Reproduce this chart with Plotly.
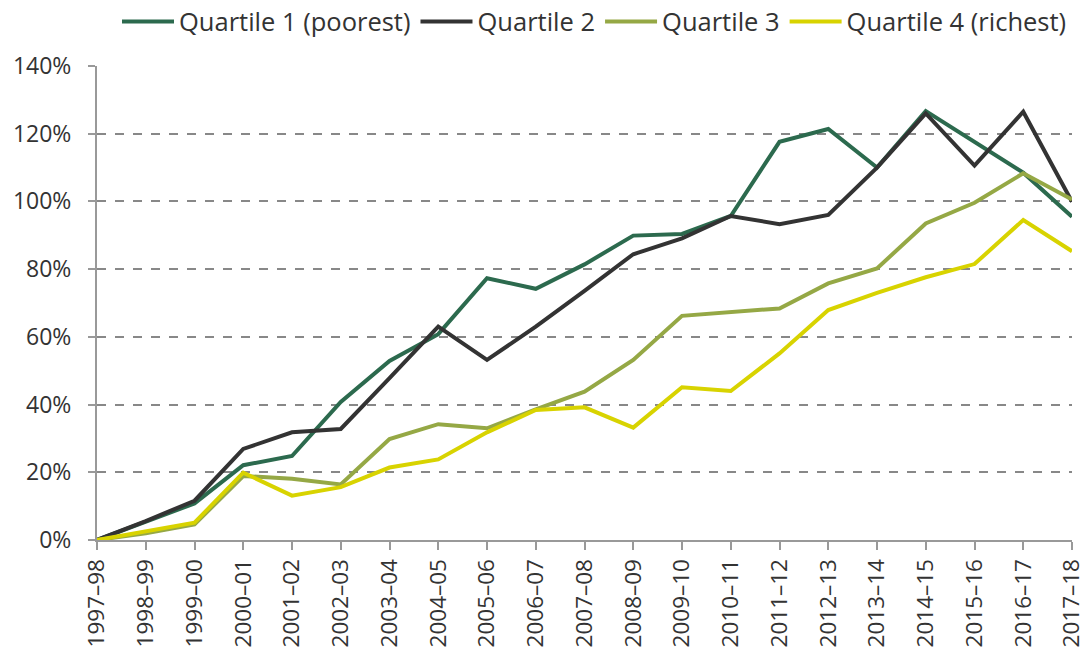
import plotly.graph_objects as go

years = ["1997–98", "1998–99", "1999–00", "2000–01", "2001–02", "2002–03", "2003–04",
         "2004–05", "2005–06", "2006–07", "2007–08", "2008–09", "2009–10", "2010–11",
         "2011–12", "2012–13", "2013–14", "2014–15", "2015–16", "2016–17", "2017–18"]

q1 = [0.0, 5.3, 10.8, 22.1, 24.8, 40.8, 52.9, 60.8, 77.3, 74.2, 81.4, 89.9, 90.4,
      95.7, 117.6, 121.4, 110.0, 126.7, 117.6, 108.5, 95.5]
q2 = [0.0, 5.6, 11.6, 26.9, 31.8, 32.8, 47.8, 63.0, 53.2, 63.0, 73.6, 84.4, 89.1,
      95.7, 93.3, 96.0, 110.0, 126.0, 110.6, 126.5, 99.9]
q3 = [0.0, 2.0, 4.6, 18.9, 18.1, 16.4, 29.8, 34.2, 33.0, 38.6, 43.8, 53.2, 66.2,
      67.3, 68.4, 75.8, 80.2, 93.5, 99.6, 108.3, 100.6]
q4 = [0.0, 2.5, 5.1, 19.9, 13.1, 15.6, 21.4, 23.8, 31.8, 38.4, 39.2, 33.2, 45.1,
      44.0, 55.1, 67.9, 73.0, 77.6, 81.5, 94.5, 85.3]

names = ["Quartile 1 (poorest)", "Quartile 2", "Quartile 3", "Quartile 4 (richest)"]
colors = ["#2c6a4e", "#333333", "#95a845", "#d8d300"]
series = [q1, q2, q3, q4]

x = list(range(len(years)))
fig = go.Figure()
for name, col, ys in zip(names, colors, series):
    fig.add_trace(go.Scatter(x=x, y=ys, mode="lines", name=name,
                             line=dict(color=col, width=4)))

font = "Open Sans, Noto Sans, sans-serif"
fig.update_layout(
    width=1083, height=653,
    margin=dict(l=97, r=11, t=66, b=113, autoexpand=False),
    plot_bgcolor="white", paper_bgcolor="white",
    font=dict(family=font, size=22, color="#333333"),
    showlegend=True,
    legend=dict(orientation="h", x=1.0, xanchor="right", y=1.093, yanchor="middle",
                font=dict(size=25.5, color="#333333"), itemwidth=52,
                tracegroupgap=0, bgcolor="rgba(0,0,0,0)"),
    xaxis=dict(range=[0, 20], tickmode="array", tickvals=x, ticktext=years,
               tickangle=-90, showgrid=False, showline=True, linecolor="#999999",
               linewidth=2, ticks="outside", ticklen=8, tickcolor="#999999",
               tickwidth=1.5, zeroline=False, tickfont=dict(size=22.5),
               ticklabeloverflow="allow", automargin=False),
    yaxis=dict(range=[0, 140], tickmode="array", tickvals=[0, 20, 40, 60, 80, 100, 120, 140],
               ticktext=["0%", "20%", "40%", "60%", "80%", "100%", "120%", "140%"],
               showgrid=True, gridcolor="#888888", griddash="dash", gridwidth=1.5,
               showline=True, linecolor="#999999", linewidth=2, ticks="outside",
               ticklen=7, tickcolor="#999999", tickwidth=1.5, zeroline=False,
               tickfont=dict(size=23), ticklabelstandoff=12, automargin=False),
)
fig.write_html("out.html", config={"displayModeBar": False},
               post_script="document.body.style.margin='0';document.body.style.padding='0';")
